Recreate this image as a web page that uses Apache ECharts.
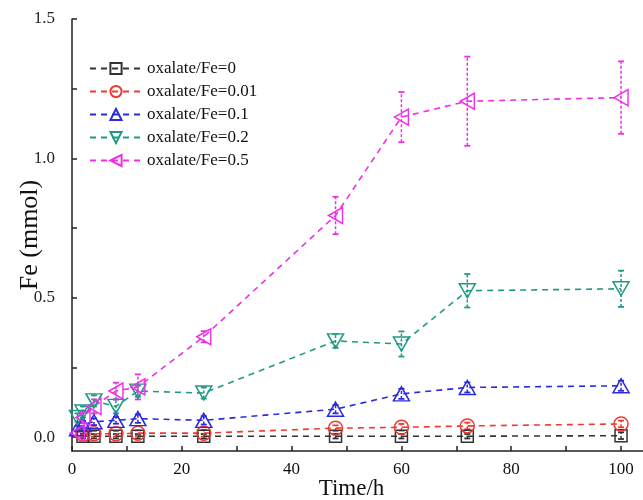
<!DOCTYPE html>
<html>
<head>
<meta charset="utf-8">
<script src="https://cdn.jsdelivr.net/npm/echarts@6/dist/echarts.min.js"></script>
<style>
  html, body { margin: 0; padding: 0; background: #fff; }
  #chart { width: 643px; height: 500px; }
</style>
</head>
<body>
<div id="chart"></div>
<script>
// Sampling times (h)
const times = [1, 2, 4, 8, 12, 24, 48, 60, 72, 100];

// Dissolved Fe (mmol) for each oxalate/Fe ratio
const fe_r0   = [null, 0.003, 0.003, 0.003, 0.003, 0.003, 0.003, 0.003, 0.003, 0.005];
const fe_r001 = [null, 0.010, 0.012, 0.012, 0.014, 0.014, 0.032, 0.035, 0.040, 0.047];
const fe_r01  = [0.030, 0.045, 0.055, 0.060, 0.066, 0.060, 0.100, 0.155, 0.178, 0.184];
const fe_r02  = [0.070, 0.090, 0.130, 0.110, 0.165, 0.158, 0.345, 0.334, 0.525, 0.532];
const fe_r05  = [0.015, 0.070, 0.110, 0.165, 0.180, 0.360, 0.795, 1.148, 1.205, 1.218];

// Standard deviations
const sd_r0   = [null, 0.008, 0.008, 0.008, 0.008, 0.008, 0.008, 0.008, 0.008, 0.012];
const sd_r001 = [null, 0.010, 0.010, 0.010, 0.010, 0.012, 0.010, 0.012, 0.012, 0.012];
const sd_r01  = [0.010, 0.012, 0.012, 0.012, 0.015, 0.015, 0.015, 0.018, 0.018, 0.018];
const sd_r02  = [0.015, 0.020, 0.020, 0.025, 0.020, 0.020, 0.025, 0.045, 0.060, 0.065];
const sd_r05  = [0.010, 0.020, 0.025, 0.030, 0.045, 0.020, 0.067, 0.090, 0.160, 0.130];

const seriesNames = ['oxalate/Fe=0', 'oxalate/Fe=0.01', 'oxalate/Fe=0.1', 'oxalate/Fe=0.2', 'oxalate/Fe=0.5'];

// Axis tick positions and labels
const xTickValues = [0, 10, 20, 30, 40, 50, 60, 70, 80, 90, 100];
const xLabelValues = [0, 20, 40, 60, 80, 100];
const yTickValues = [0, 0.25, 0.5, 0.75, 1.0, 1.25, 1.5];
const yLabelValues = [0, 0.5, 1.0, 1.5];

const values = [fe_r0, fe_r001, fe_r01, fe_r02, fe_r05];
const errors = [sd_r0, sd_r001, sd_r01, sd_r02, sd_r05];
const colors = ['#333333', '#ee3a30', '#2b2bdd', '#1f9985', '#ee2ee8'];
const symbols = [
  'rect',
  'circle',
  'path://M5,0 L10,9 L0,9 Z',
  'path://M0,0 L10,0 L5,9 Z',
  'path://M0,5 L9,0 L9,10 Z'
];
const symbolSizes = [[12, 12], 14, [16, 14], [16, 14], [14, 16]];

const FONT = '"Liberation Serif", "Times New Roman", serif';

const lineSeries = seriesNames.map((name, k) => ({
  name: name,
  type: 'line',
  data: times.map((t, i) => values[k][i] == null ? null : [t, values[k][i]]).filter(d => d),
  symbol: symbols[k],
  symbolSize: symbolSizes[k],
  showAllSymbol: true,
  lineStyle: { color: colors[k], width: 1.6, type: [6, 5] },
  itemStyle: { color: 'rgba(255,255,255,0)', borderColor: colors[k], borderWidth: 1.5 },
  emphasis: { disabled: true },
  z: 3
}));

// Vertical error bars with short caps
const errorSeries = seriesNames.map((name, k) => ({
  type: 'custom',
  id: 'err' + k,
  data: times.map((t, i) => values[k][i] == null ? null :
    [t, values[k][i] - errors[k][i], values[k][i] + errors[k][i]]).filter(d => d),
  encode: { x: 0, y: [1, 2] },
  renderItem: function (params, api) {
    const lo = api.coord([api.value(0), api.value(1)]);
    const hi = api.coord([api.value(0), api.value(2)]);
    const cap = 3;
    const c = colors[k];
    return {
      type: 'group',
      children: [
        { type: 'line', shape: { x1: lo[0], y1: lo[1], x2: hi[0], y2: hi[1] },
          style: { stroke: c, lineWidth: 1.5, lineDash: [3, 2] } },
        { type: 'line', shape: { x1: lo[0] - cap, y1: lo[1], x2: lo[0] + cap, y2: lo[1] },
          style: { stroke: c, lineWidth: 1.8 } },
        { type: 'line', shape: { x1: hi[0] - cap, y1: hi[1], x2: hi[0] + cap, y2: hi[1] },
          style: { stroke: c, lineWidth: 1.8 } }
      ]
    };
  },
  silent: true,
  z: 2
}));

const chart = echarts.init(document.getElementById('chart'), null, { renderer: 'canvas' });
chart.setOption({
  animation: false,
  backgroundColor: '#ffffff',
  grid: { left: 72, right: 0, top: 19, bottom: 49, containLabel: false, outerBoundsMode: 'none' },
  legend: {
    data: seriesNames,
    orient: 'vertical',
    left: 84,
    top: 55,
    itemWidth: 52,
    itemHeight: 14,
    itemGap: 6,
    textStyle: { fontFamily: FONT, fontSize: 17, color: '#111' }
  },
  xAxis: {
    type: 'value',
    min: 0,
    max: 104,
    name: 'Time/h',
    nameLocation: 'middle',
    nameGap: 26,
    nameMoveOverlap: false,
    nameTextStyle: { fontFamily: FONT, fontSize: 23, color: '#111', padding: [0, 12, 0, 0] },
    axisLine: { onZero: false, lineStyle: { color: '#222', width: 1.5 } },
    axisTick: { inside: true, length: 5, customValues: xTickValues, lineStyle: { color: '#222', width: 1.5 } },
    axisLabel: { customValues: xLabelValues, fontFamily: FONT, fontSize: 17, color: '#111', margin: 10 },
    splitLine: { show: false }
  },
  yAxis: {
    type: 'value',
    min: -0.05,
    max: 1.5,
    name: 'Fe (mmol)',
    nameLocation: 'middle',
    nameGap: 29,
    nameMoveOverlap: false,
    nameRotate: 90,
    nameTextStyle: { fontFamily: FONT, fontSize: 26, color: '#111' },
    axisLine: { show: true, onZero: false, lineStyle: { color: '#222', width: 1.5 } },
    axisTick: { show: true, inside: true, length: 5, customValues: yTickValues, lineStyle: { color: '#222', width: 1.5 } },
    axisLabel: { customValues: yLabelValues, fontFamily: FONT, fontSize: 17, color: '#222', margin: 17,
      formatter: v => v.toFixed(1) },
    splitLine: { show: false }
  },
  series: errorSeries.concat(lineSeries)
});
</script>
</body>
</html>
